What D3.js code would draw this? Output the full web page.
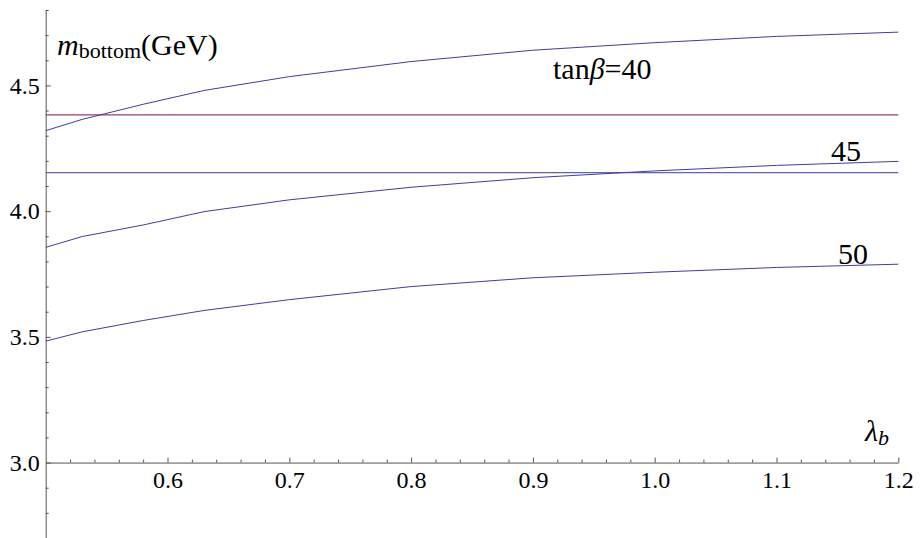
<!DOCTYPE html>
<html>
<head>
<meta charset="utf-8">
<script src="https://cdn.jsdelivr.net/npm/d3@7"></script>
<style>
  html, body { margin: 0; padding: 0; background: #fff; }
  svg { display: block; }
</style>
</head>
<body>
<svg id="chart" width="921" height="538"></svg>
<script>
// ---- data ----
const lambda = [0.5, 0.53, 0.58, 0.63, 0.7, 0.8, 0.9, 1.0, 1.1, 1.2];
const mb40 = [4.320, 4.365, 4.425, 4.480, 4.535, 4.595, 4.640, 4.670, 4.695, 4.712];
const mb45 = [3.856, 3.899, 3.945, 3.998, 4.045, 4.095, 4.133, 4.160, 4.182, 4.198];
const mb50 = [3.483, 3.520, 3.565, 3.605, 3.648, 3.700, 3.735, 3.757, 3.776, 3.789];
const refValues = [4.383, 4.153];
const refColors = ["#993d71", "#6262b4"];
const seriesLabels = ["tanβ=40", "45", "50"];
const xMajorTicks = [0.6, 0.7, 0.8, 0.9, 1.0, 1.1, 1.2];
const yMajorTicks = [3.0, 3.5, 4.0, 4.5];

const FONT = "'Liberation Serif', 'Times New Roman', Times, serif";
const svg = d3.select("#chart");
const x = d3.scaleLinear().domain([0.5, 1.2]).range([45.7, 898.3]);
const y = d3.scaleLinear().domain([2.7, 4.8]).range([538, 10]);

const axisColor = "#555";

// minor ticks
const xMinor = d3.range(26, 60).map(d => d / 50).filter(v => v > 0.5 && v < 1.2 && Math.abs(v * 10 - Math.round(v * 10)) > 1e-6);
const yMinor = d3.range(27, 49).map(d => d / 10).filter(v => Math.abs(v * 2 - Math.round(v * 2)) > 1e-6);

// x axis
const gx = svg.append("g").attr("transform", `translate(0,${y(3.0)})`);
gx.call(d3.axisBottom(x).tickValues(xMajorTicks).tickFormat(d3.format(".1f"))
  .tickSizeInner(-5).tickSizeOuter(0).tickPadding(8));
gx.append("g").call(d3.axisBottom(x).tickValues(xMinor).tickFormat("")
  .tickSizeInner(-3).tickSizeOuter(0)).select(".domain").remove();

// y axis
const gy = svg.append("g").attr("transform", `translate(${x(0.5)},0)`);
gy.call(d3.axisLeft(y).tickValues(yMajorTicks).tickFormat(d3.format(".1f"))
  .tickSizeInner(-5).tickSizeOuter(0).tickPadding(6));
gy.append("g").call(d3.axisLeft(y).tickValues(yMinor).tickFormat("")
  .tickSizeInner(-3).tickSizeOuter(0)).select(".domain").remove();

svg.selectAll("g").attr("font-family", null).attr("font-size", null);
svg.selectAll(".tick text").style("font-family", FONT).style("font-size", "24px").attr("fill", "#000");
svg.selectAll(".domain, .tick line").attr("stroke", axisColor).attr("stroke-width", 1);

// reference horizontal lines
svg.append("g").selectAll("line").data(refValues).join("line")
  .attr("x1", x(0.5)).attr("x2", x(1.2))
  .attr("y1", d => y(d)).attr("y2", d => y(d))
  .attr("stroke", (d, i) => refColors[i]).attr("stroke-width", 1.2);

// curves
const line = d3.line().x(d => x(d[0])).y(d => y(d[1]));
const series = [mb40, mb45, mb50];
svg.append("g").selectAll("path").data(series).join("path")
  .attr("d", s => line(lambda.map((l, i) => [l, s[i]])))
  .attr("fill", "none").attr("stroke", "#3f3d99").attr("stroke-width", 1);

// curve labels
const lab = svg.append("g");
const t40 = lab.append("text").attr("x", 553).attr("y", 79)
  .style("font-family", FONT).style("font-size", "30px");
t40.append("tspan").text("tan");
t40.append("tspan").style("font-style", "italic").text("β");
t40.append("tspan").text("=40");
lab.append("text").attr("x", 831).attr("y", 161)
  .style("font-family", FONT).style("font-size", "30px").text(seriesLabels[1]);
lab.append("text").attr("x", 838).attr("y", 264)
  .style("font-family", FONT).style("font-size", "30px").text(seriesLabels[2]);

// axis labels
const yl = svg.append("text").attr("x", 57).attr("y", 55)
  .style("font-family", FONT).style("font-size", "30px");
yl.append("tspan").style("font-style", "italic").text("m");
yl.append("tspan").style("font-size", "22px").attr("dy", 3).text("bottom");
yl.append("tspan").attr("dy", -3).text("(GeV)");

const xl = svg.append("text").attr("x", 865).attr("y", 441)
  .style("font-family", FONT).style("font-size", "30px");
xl.append("tspan").style("font-style", "italic").text("λ");
xl.append("tspan").style("font-style", "italic").style("font-size", "22px").attr("dy", 4).text("b");
</script>
</body>
</html>
